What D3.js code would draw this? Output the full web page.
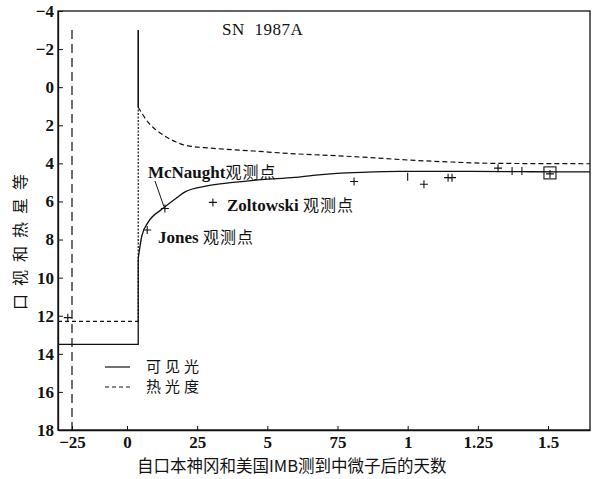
<!DOCTYPE html>
<html>
<head>
<meta charset="utf-8">
<script src="https://cdn.jsdelivr.net/npm/d3@7"></script>
<style>
  body { margin: 0; background: #fff; }
  svg text { fill: #111; }
</style>
</head>
<body>
<div id="chart"></div>
<script>
// x ticks in days (labels as printed in the figure)
const xTickValues = [-25, 0, 25, 50, 75, 100, 125, 150];
const xTickLabels = ["\u221225", "0", "25", "5", "75", "1", "1.25", "1.5"];
const yTickValues = [-4, -2, 0, 2, 4, 6, 8, 10, 12, 14, 16, 18];

// visible light curve (days, magnitude)
const visDays = [4, 5.3, 7.5, 12.5, 17.8, 20.7, 28, 37.8, 48, 59.8, 66.3, 74.8, 83.7, 97.3, 118.6, 143.6, 165];
const visMags = [9.0, 7.8, 7.1, 6.4, 5.8, 5.5, 5.2, 5.0, 4.85, 4.74, 4.63, 4.53, 4.47, 4.42, 4.42, 4.44, 4.45];

// bolometric (thermal) curve
const bolDays = [4, 7.5, 12.5, 17.8, 20.7, 30, 45, 60, 75, 89, 97.3, 114, 131.8, 165];
const bolMags = [1.05, 1.84, 2.47, 2.9, 3.05, 3.2, 3.35, 3.5, 3.6, 3.72, 3.8, 3.92, 4.0, 4.02];

// pre-outburst levels and the jump day
const visBase = 13.5, bolBase = 12.3, jumpDay = 4;
const spikeTop = -3;

// observation points "+"
const obsDays = [-26.8, 7.2, 13.5, 30.6, 80.9, 105.8, 114.4, 115.8, 132.2];
const obsMags = [12.1, 7.5, 6.37, 6.05, 4.95, 5.1, 4.75, 4.75, 4.25];
// vertical-only marks
const tickDays = [100, 137.2, 140.7];
const tickMags = [4.7, 4.4, 4.4];
// boxed point
const boxDay = 150.7, boxMag = 4.5;

const margin = {left: 58, right: 8, top: 11, bottom: 49};
const W = 598, H = 479;

const svg = d3.select("#chart").append("svg")
    .attr("width", W)
    .attr("height", H);

// the printed x axis is not uniform left of 0
const x = d3.scaleLinear()
    .domain([-31, -25, 0, 150, 165])
    .range([margin.left, 72, 127, 548, W - margin.right]);
const y = d3.scaleLinear()
    .domain([-4, 18])
    .range([margin.top, H - margin.bottom]);

const serif = "'Liberation Serif', 'DejaVu Serif', serif";
const cjk = "'Noto Sans CJK SC', sans-serif";

// frame
svg.append("rect")
    .attr("x", margin.left)
    .attr("y", margin.top)
    .attr("width", W - margin.right - margin.left)
    .attr("height", H - margin.bottom - margin.top)
    .attr("fill", "none")
    .attr("stroke", "#111")
    .attr("stroke-width", 1.3);

// axes
const xAxis = svg.append("g")
    .attr("transform", `translate(0,${H - margin.bottom})`)
    .call(d3.axisBottom(x)
        .tickValues(xTickValues)
        .tickFormat((d, i) => xTickLabels[i])
        .tickSizeInner(-4)
        .tickSizeOuter(0)
        .tickPadding(6));
const yAxis = svg.append("g")
    .attr("transform", `translate(${margin.left},0)`)
    .call(d3.axisLeft(y)
        .tickValues(yTickValues)
        .tickFormat(d => d < 0 ? "\u2212" + Math.abs(d) : d)
        .tickSizeInner(-5)
        .tickSizeOuter(0)
        .tickPadding(4));

[xAxis, yAxis].forEach(a => {
    a.select(".domain").attr("stroke", "#111").attr("stroke-width", 1.3);
    a.selectAll(".tick line").attr("stroke", "#111");
    a.selectAll(".tick text")
        .style("font-family", serif)
        .style("font-size", "17px")
        .style("font-weight", "bold")
        .attr("fill", "#111");
});

// axis titles
svg.append("text")
    .attr("x", 137)
    .attr("y", 472)
    .style("font-family", cjk)
    .style("font-size", "16.5px")
    .text("自口本神冈和美国IMB测到中微子后的天数");

svg.append("text")
    .attr("transform", "translate(26,238) rotate(-90)")
    .attr("text-anchor", "middle")
    .style("font-family", cjk)
    .style("font-size", "16px")
    .style("letter-spacing", "8px")
    .text("口视和热星等");

// title
svg.append("text")
    .attr("x", 222)
    .attr("y", 35)
    .style("font-family", serif)
    .style("font-size", "17px")
    .style("word-spacing", "5px")
    .style("letter-spacing", "0.5px")
    .text("SN 1987A");

const line = d3.line().x(d => x(d[0])).y(d => y(d[1]));
const smooth = d3.line().curve(d3.curveMonotoneX).x(d => x(d[0])).y(d => y(d[1]));

// vertical dashed line at -25
svg.append("path")
    .attr("d", line([[-25, spikeTop], [-25, 18]]))
    .attr("fill", "none")
    .attr("stroke", "#111")
    .attr("stroke-width", 1.2)
    .attr("stroke-dasharray", "9,5");

// thermal: base level and jump
svg.append("path")
    .attr("d", line([[-31, bolBase], [jumpDay, bolBase]]))
    .attr("fill", "none")
    .attr("stroke", "#111")
    .attr("stroke-width", 1.2)
    .attr("stroke-dasharray", "4,3");
svg.append("path")
    .attr("d", line([[jumpDay, bolBase], [jumpDay, bolMags[0]]]))
    .attr("fill", "none")
    .attr("stroke", "#111")
    .attr("stroke-width", 1.2)
    .attr("stroke-dasharray", "2,1.5");
svg.append("path")
    .attr("d", smooth(bolDays.map((d, i) => [d, bolMags[i]])))
    .attr("fill", "none")
    .attr("stroke", "#111")
    .attr("stroke-width", 1.2)
    .attr("stroke-dasharray", "5,3");

// visible: base level, jump, spike, decay
svg.append("path")
    .attr("d", line([[-31, visBase], [jumpDay, visBase], [jumpDay, visMags[0]]]))
    .attr("fill", "none")
    .attr("stroke", "#111")
    .attr("stroke-width", 1.3);
svg.append("path")
    .attr("d", line([[jumpDay, spikeTop], [jumpDay, bolMags[0]]]))
    .attr("fill", "none")
    .attr("stroke", "#111")
    .attr("stroke-width", 1.6);
svg.append("path")
    .attr("d", smooth(visDays.map((d, i) => [d, visMags[i]])))
    .attr("fill", "none")
    .attr("stroke", "#111")
    .attr("stroke-width", 1.3);

// observation markers
const s = 4;
svg.append("g").selectAll("path")
    .data(obsDays.map((d, i) => [d, obsMags[i]]))
    .join("path")
    .attr("d", d => `M${x(d[0]) - s},${y(d[1])}h${2 * s}M${x(d[0])},${y(d[1]) - s}v${2 * s}`)
    .attr("stroke", "#111")
    .attr("stroke-width", 1.1);
svg.append("g").selectAll("path")
    .data(tickDays.map((d, i) => [d, tickMags[i]]))
    .join("path")
    .attr("d", d => `M${x(d[0])},${y(d[1]) - s}v${2 * s}`)
    .attr("stroke", "#111")
    .attr("stroke-width", 1.1);
svg.append("rect")
    .attr("x", x(boxDay) - 6)
    .attr("y", y(boxMag) - 6)
    .attr("width", 12)
    .attr("height", 12)
    .attr("fill", "none")
    .attr("stroke", "#111")
    .attr("stroke-width", 1.1);
svg.append("path")
    .attr("d", `M${x(boxDay) - 4},${y(boxMag) + 1}h8M${x(boxDay)},${y(boxMag) - 3}v8`)
    .attr("stroke", "#111")
    .attr("stroke-width", 1.1);

// annotations
function note(tx, ty, latin, zh) {
    const t = svg.append("text")
        .attr("x", tx)
        .attr("y", ty)
        .style("font-size", "17px");
    t.append("tspan").style("font-family", serif).style("font-weight", "bold").text(latin);
    t.append("tspan").style("font-family", cjk).style("font-size", "16px")
        .style("letter-spacing", "1px").text(zh);
}
note(148, 178, "McNaught", "观测点");
note(227, 211, "Zoltowski ", "观测点");
note(158, 243, "Jones ", "观测点");

svg.append("path")
    .attr("d", `M155,181L${x(obsDays[2]) - 1},${y(obsMags[2]) - 2}`)
    .attr("stroke", "#111")
    .attr("stroke-width", 1);

// legend
const legend = [["可见光", null, 367], ["热光度", "4,3", 387]];
legend.forEach(([label, dash, ly]) => {
    svg.append("line")
        .attr("x1", 105).attr("x2", 130)
        .attr("y1", ly).attr("y2", ly)
        .attr("stroke", "#111")
        .attr("stroke-width", 1.2)
        .attr("stroke-dasharray", dash);
    svg.append("text")
        .attr("x", 146)
        .attr("y", ly + 5)
        .style("font-family", cjk)
        .style("font-size", "15px")
        .style("letter-spacing", "4px")
        .text(label);
});
</script>
</body>
</html>
